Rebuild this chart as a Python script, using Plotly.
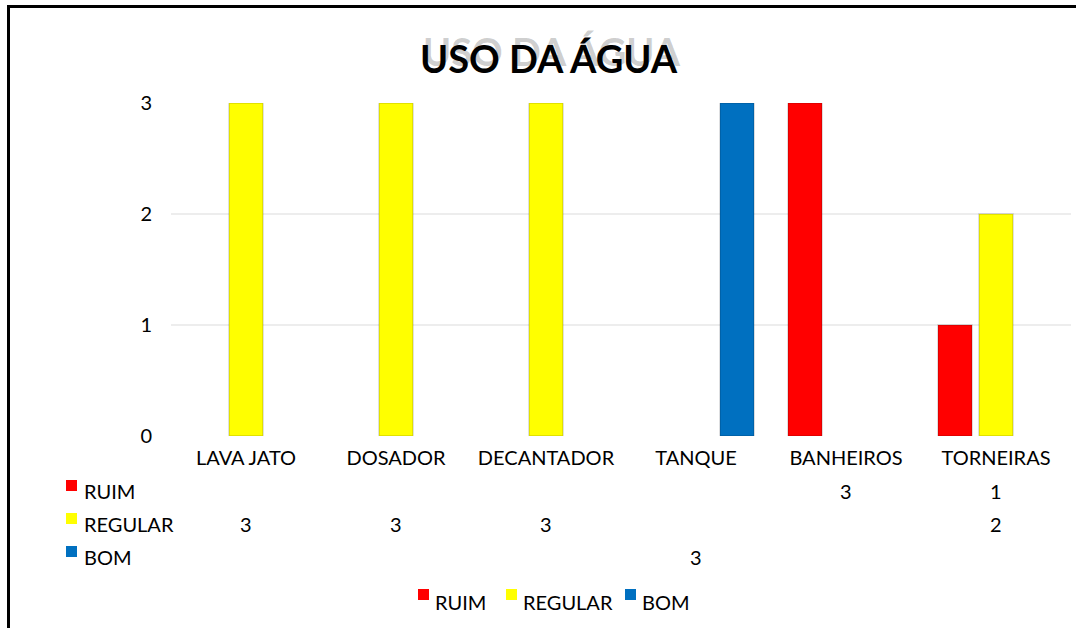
import plotly.graph_objects as go

categories = ["LAVA JATO", "DOSADOR", "DECANTADOR", "TANQUE", "BANHEIROS", "TORNEIRAS"]
series_names = ["RUIM", "REGULAR", "BOM"]
ruim = [None, None, None, None, 3, 1]
regular = [3, 3, 3, None, None, 2]
bom = [None, None, None, 3, None, None]
series_values = [ruim, regular, bom]
colors = ["#FF0000", "#FFFF00", "#0070C0"]
title_text = "USO DA ÁGUA"
y_ticks = [0, 1, 2, 3]

FONT = "Lato, 'Open Sans', sans-serif"
W, H = 1076, 628
L, T = 171, 103
R = W - 1071
B = H - 436
PW, PH = W - L - R, H - T - B


def px_x(px):
    return (px - L) / PW


def px_y(py):
    return (H - B - py) / PH


fig = go.Figure()
for name, vals, col in zip(series_names, series_values, colors):
    fig.add_trace(go.Bar(
        x=categories, y=vals, name=name, showlegend=False,
        marker=dict(color=col, line=dict(color="rgba(0,0,0,0.16)", width=1.5)),
    ))

annotations = []
# title with soft shadow
annotations.append(dict(text=f"<b>{title_text}</b>", x=px_x(552), y=px_y(51), xref="paper", yref="paper",
                        showarrow=False, font=dict(family=FONT, size=38, color="rgba(0,0,0,0.2)"),
                        xanchor="center", yanchor="middle"))
annotations.append(dict(text=f"<b>{title_text}</b>", x=px_x(549), y=px_y(58), xref="paper", yref="paper",
                        showarrow=False, font=dict(family=FONT, size=38, color="#000000"),
                        xanchor="center", yanchor="middle"))

row_y = [491, 524, 557]
shapes = []
for name, vals, col, ry in zip(series_names, series_values, colors, row_y):
    annotations.append(dict(text=name, x=px_x(82), y=px_y(ry), xref="paper", yref="paper",
                            showarrow=False, xanchor="left", yanchor="middle",
                            font=dict(family=FONT, size=20, color="#000000")))
    shapes.append(dict(type="rect", xref="paper", yref="paper",
                       x0=px_x(66), x1=px_x(77), y0=px_y(ry), y1=px_y(ry - 11),
                       fillcolor=col, line=dict(width=0)))
    for c, v in zip(categories, vals):
        if v is not None:
            annotations.append(dict(text=str(v), x=c, y=px_y(ry), xref="x", yref="paper",
                                    showarrow=False, xanchor="center", yanchor="middle",
                                    font=dict(family=FONT, size=20, color="#000000")))

# bottom legend
leg_y = 602
leg_sq_x = [418, 506, 625]
for name, col, sx in zip(series_names, colors, leg_sq_x):
    shapes.append(dict(type="rect", xref="paper", yref="paper",
                       x0=px_x(sx), x1=px_x(sx + 11), y0=px_y(leg_y - 2), y1=px_y(leg_y - 13),
                       fillcolor=col, line=dict(width=0)))
    annotations.append(dict(text=name, x=px_x(sx + 15), y=px_y(leg_y), xref="paper", yref="paper",
                            showarrow=False, xanchor="left", yanchor="middle",
                            font=dict(family=FONT, size=20, color="#000000")))

# outer frame (top and left)
shapes.append(dict(type="line", xref="paper", yref="paper", x0=px_x(7), x1=px_x(1090),
                   y0=px_y(6.5), y1=px_y(6.5), line=dict(color="#000000", width=3)))
shapes.append(dict(type="line", xref="paper", yref="paper", x0=px_x(8.5), x1=px_x(8.5),
                   y0=px_y(5), y1=px_y(650), line=dict(color="#000000", width=3)))

fig.update_layout(
    width=W, height=H,
    margin=dict(l=L, r=R, t=T, b=B),
    paper_bgcolor="white", plot_bgcolor="white",
    barmode="group", bargap=0.18, bargroupgap=0.17,
    font=dict(family=FONT, size=20, color="#000000"),
    showlegend=False,
    annotations=annotations,
    shapes=shapes,
)
fig.update_xaxes(showgrid=False, showline=False, zeroline=False, ticks="",
                 tickfont=dict(family=FONT, size=20), ticklabelstandoff=8)
fig.update_yaxes(range=[0, 3], tickvals=y_ticks, showgrid=True, gridcolor="#EDEDED", gridwidth=2,
                 zeroline=False, showline=False, ticks="", ticklabelstandoff=18,
                 tickfont=dict(family=FONT, size=20))

fig.write_html("out.html", config={"displayModeBar": False},
               post_script="document.body.style.margin='0';document.body.style.overflow='hidden';")
